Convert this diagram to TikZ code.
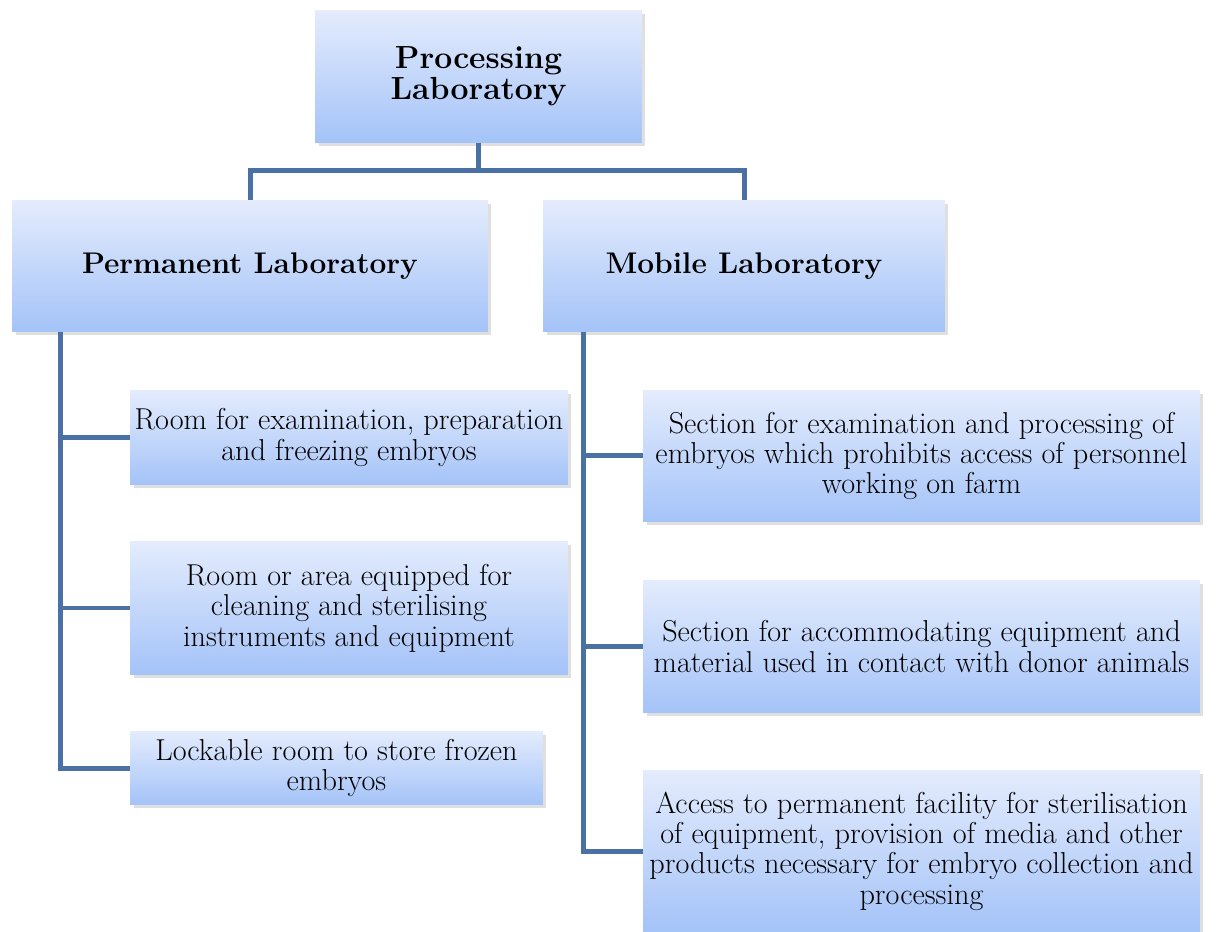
\documentclass[tikz,border=0pt]{standalone}
\usepackage{fontspec}
\usetikzlibrary{positioning, shadows}
\definecolor{boxtop}{RGB}{228,236,253}
\definecolor{boxbottom}{RGB}{164,195,248}
\definecolor{linkblue}{RGB}{74,112,164}
\tikzstyle{head_box} = [
    rectangle,
    font=\bfseries\fontsize{17}{18}\selectfont,
    top color=boxtop,
    bottom color=boxbottom,
    drop shadow={shadow xshift=0.07cm, shadow yshift=-0.07cm, opacity=0.25},
    align=center,
    inner sep=0pt
]
\tikzstyle{item_box} = [
    rectangle,
    font=\fontsize{17.2}{17.3}\selectfont,
    top color=boxtop,
    bottom color=boxbottom,
    drop shadow={shadow xshift=0.07cm, shadow yshift=-0.07cm, opacity=0.25},
    align=center,
    inner sep=0pt
]
\tikzstyle{link} = [
    draw=linkblue,
    line width=0.1cm
]

\begin{document}
\begin{tikzpicture}[x=0.02cm, y=-0.02cm]
\useasboundingbox (0,0) rectangle (1218,932);
% heads
\node [head_box, minimum width=6.54cm, minimum height=2.66cm, font=\bfseries\fontsize{18.2}{17.6}\selectfont] (proc_lab) at (478.5,76.5) {Processing\\Laboratory};
\node [head_box, minimum width=9.52cm, minimum height=2.64cm] (perm_lab) at (250,266) {Permanent Laboratory};
\node [head_box, minimum width=8.04cm, minimum height=2.64cm] (mob_lab) at (744,266) {Mobile Laboratory};
% permanent laboratory
\node [item_box, minimum width=8.76cm, minimum height=1.90cm] (perm_1) at (349,437.5) {Room for examination, preparation\\and freezing embryos};
\node [item_box, minimum width=8.76cm, minimum height=2.68cm] (perm_2) at (349,608) {Room or area equipped for\\cleaning and sterilising\\instruments and equipment};
\node [item_box, minimum width=8.26cm, minimum height=1.48cm] (perm_3) at (336.5,768) {Lockable room to store frozen\\embryos};
% mobile laboratory
\node [item_box, minimum width=11.14cm, minimum height=2.64cm] (mob_1) at (921.5,456) {Section for examination and processing of\\embryos which prohibits access of personnel\\working on farm};
\node [item_box, minimum width=11.14cm, minimum height=2.66cm] (mob_2) at (921.5,646.5) {Section for accommodating equipment and\\material used in contact with donor animals};
\node [item_box, minimum width=11.14cm, minimum height=3.24cm] (mob_3) at (921.5,851) {Access to permanent facility for sterilisation\\of equipment, provision of media and other\\products necessary for embryo collection and\\processing};
% connectors
\coordinate (split) at (478.5,171);
\draw [link] (proc_lab.south) -- (split);
\draw [link] (perm_lab.north) |- (split) -| (mob_lab.north);
\foreach \room in {perm_1, perm_2, perm_3}
    \draw [link] ([xshift=0.98cm]perm_lab.south west) |- (\room.west);
\foreach \room in {mob_1, mob_2, mob_3}
    \draw [link] ([xshift=0.82cm]mob_lab.south west) |- (\room.west);
\end{tikzpicture}
\end{document}
